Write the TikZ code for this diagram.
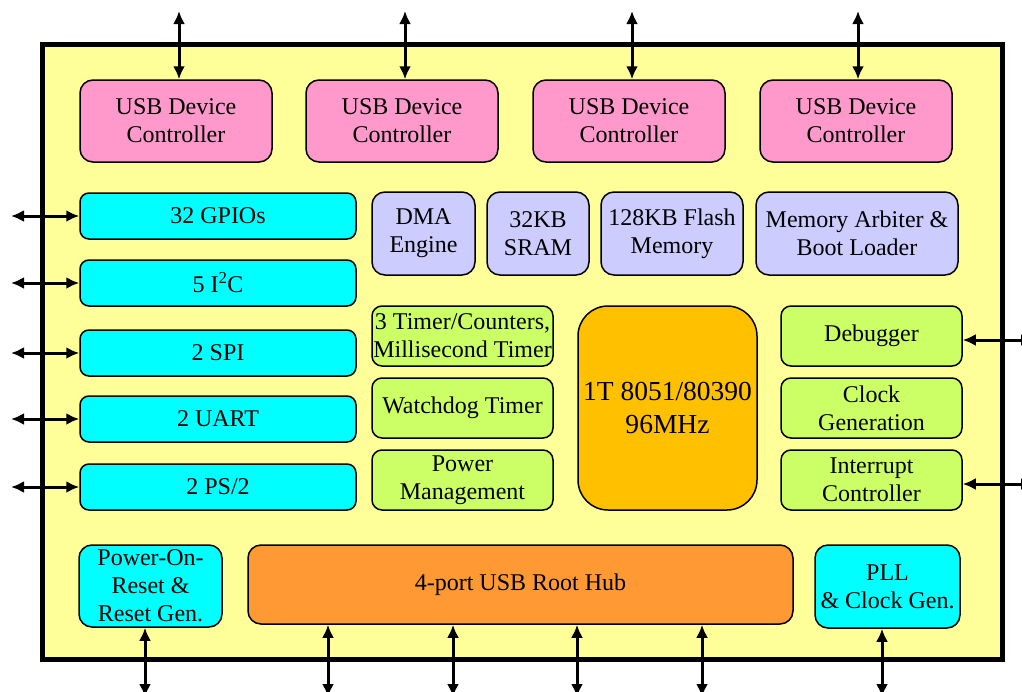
\documentclass[tikz,border=0pt]{standalone}
\usepackage{fontspec}
\setmainfont{Liberation Serif}
\usetikzlibrary{arrows.meta}

\definecolor{chipyellow}{HTML}{FFFF99}
\definecolor{usbpink}{HTML}{FF99CC}
\definecolor{iocyan}{HTML}{00FFFF}
\definecolor{memblue}{HTML}{CCCCFF}
\definecolor{periphgreen}{HTML}{CCFF66}
\definecolor{cpugold}{HTML}{FFC000}
\definecolor{huborange}{HTML}{FF9933}

\begin{document}
\begin{tikzpicture}[
    x=1pt, y=-1pt,
    block/.style={rectangle, draw, line width=1.5pt, rounded corners=13pt, align=center, inner sep=0pt, font=\fontsize{24}{28}\selectfont},
    usbdev/.style={block, fill=usbpink, minimum width=192pt, minimum height=82pt},
    io/.style={block, fill=iocyan, minimum width=276pt, minimum height=46pt, rounded corners=9pt},
    mem/.style={block, fill=memblue, minimum height=83pt},
    periph/.style={block, fill=periphgreen, minimum width=181pt, minimum height=60pt, rounded corners=10pt},
    link/.style={{Latex[length=13pt,width=12pt]}-{Latex[length=13pt,width=12pt]}, line width=3pt}
]
    \useasboundingbox (0,0) rectangle (1022,691);

    % Chip outline
    \draw[line width=5pt, fill=chipyellow] (42,44) rectangle (1002,659);

    % USB device controllers
    \node[usbdev] (usb1) at (176,121) {USB Device\\Controller};
    \node[usbdev] (usb2) at (402,121) {USB Device\\Controller};
    \node[usbdev] (usb3) at (629,121) {USB Device\\Controller};
    \node[usbdev] (usb4) at (856,121) {USB Device\\Controller};

    % Peripheral interfaces
    \node[io] (gpio) at (218,216) {32 GPIOs};
    \node[io] (iic)  at (218,283) {5 I\textsuperscript{2}C};
    \node[io] (spi)  at (218,353) {2 SPI};
    \node[io] (uart) at (218,419) {2 UART};
    \node[io] (ps2)  at (218,487) {2 PS/2};

    % Memory row
    \node[mem, minimum width=103pt] (dma)   at (423.5,233.5) {DMA\\Engine};
    \node[mem, minimum width=102pt] (sram)  at (538,233.5) {32KB\\SRAM};
    \node[mem, minimum width=142pt] (flash) at (672,233.5) {128KB Flash\\Memory};
    \node[mem, minimum width=202pt] (arb)   at (857,233.5) {Memory Arbiter \&\\Boot Loader};

    % Timers and power
    \node[periph] (timer) at (462.5,336) {3 Timer/Counters,\\Millisecond Timer};
    \node[periph] (wdt)   at (462.5,408) {Watchdog Timer};
    \node[periph] (pwr)   at (462.5,480) {Power\\Management};

    % CPU core
    \node[block, fill=cpugold, minimum width=179pt, minimum height=204pt, rounded corners=30pt,
          font=\fontsize{27.5}{33}\selectfont] (cpu) at (667.5,408) {1T 8051/80390\\96MHz};

    % Debug, clock, interrupt
    \node[periph] (dbg) at (871.5,336) {Debugger};
    \node[periph] (clk) at (871.5,408) {Clock\\Generation};
    \node[periph] (irq) at (871.5,480) {Interrupt\\Controller};

    % Bottom row
    \node[block, fill=iocyan, minimum width=143pt, minimum height=82pt] (por) at (150.5,586) {Power-On-\\Reset \&\\Reset Gen.};
    \node[block, fill=huborange, minimum width=545pt, minimum height=79pt] (hub) at (520.5,584.5) {4-port USB Root Hub};
    \node[block, fill=iocyan, minimum width=145pt, minimum height=83pt] (pll) at (887.5,586.5) {PLL\\\& Clock Gen.};

    % Outside pins
    \coordinate (t1) at (179,11);
    \coordinate (t2) at (405,11);
    \coordinate (t3) at (632,11);
    \coordinate (t4) at (858,11);
    \coordinate (pl) at (11,0);
    \coordinate (pr) at (1034,0);
    \coordinate (b1) at (145,697);
    \coordinate (b2) at (328,697);
    \coordinate (b3) at (453,697);
    \coordinate (b4) at (577,697);
    \coordinate (b5) at (702,697);
    \coordinate (b6) at (882,697);

    % Arrows
    \draw[link] (t1) -- (usb1.north -| t1);
    \draw[link] (t2) -- (usb2.north -| t2);
    \draw[link] (t3) -- (usb3.north -| t3);
    \draw[link] (t4) -- (usb4.north -| t4);
    \foreach \n in {gpio,iic,spi,uart,ps2}
        \draw[link] (pl |- \n.west) -- (\n.west);
    \draw[link] ([yshift=-4pt]pr |- dbg.east) -- ([yshift=-4pt]dbg.east);
    \draw[link] ([yshift=-4pt]pr |- irq.east) -- ([yshift=-4pt]irq.east);
    \draw[link] (por.south -| b1) -- (b1);
    \foreach \c in {b2,b3,b4,b5}
        \draw[link] (hub.south -| \c) -- (\c);
    \draw[link] (pll.south -| b6) -- (b6);
\end{tikzpicture}
\end{document}
